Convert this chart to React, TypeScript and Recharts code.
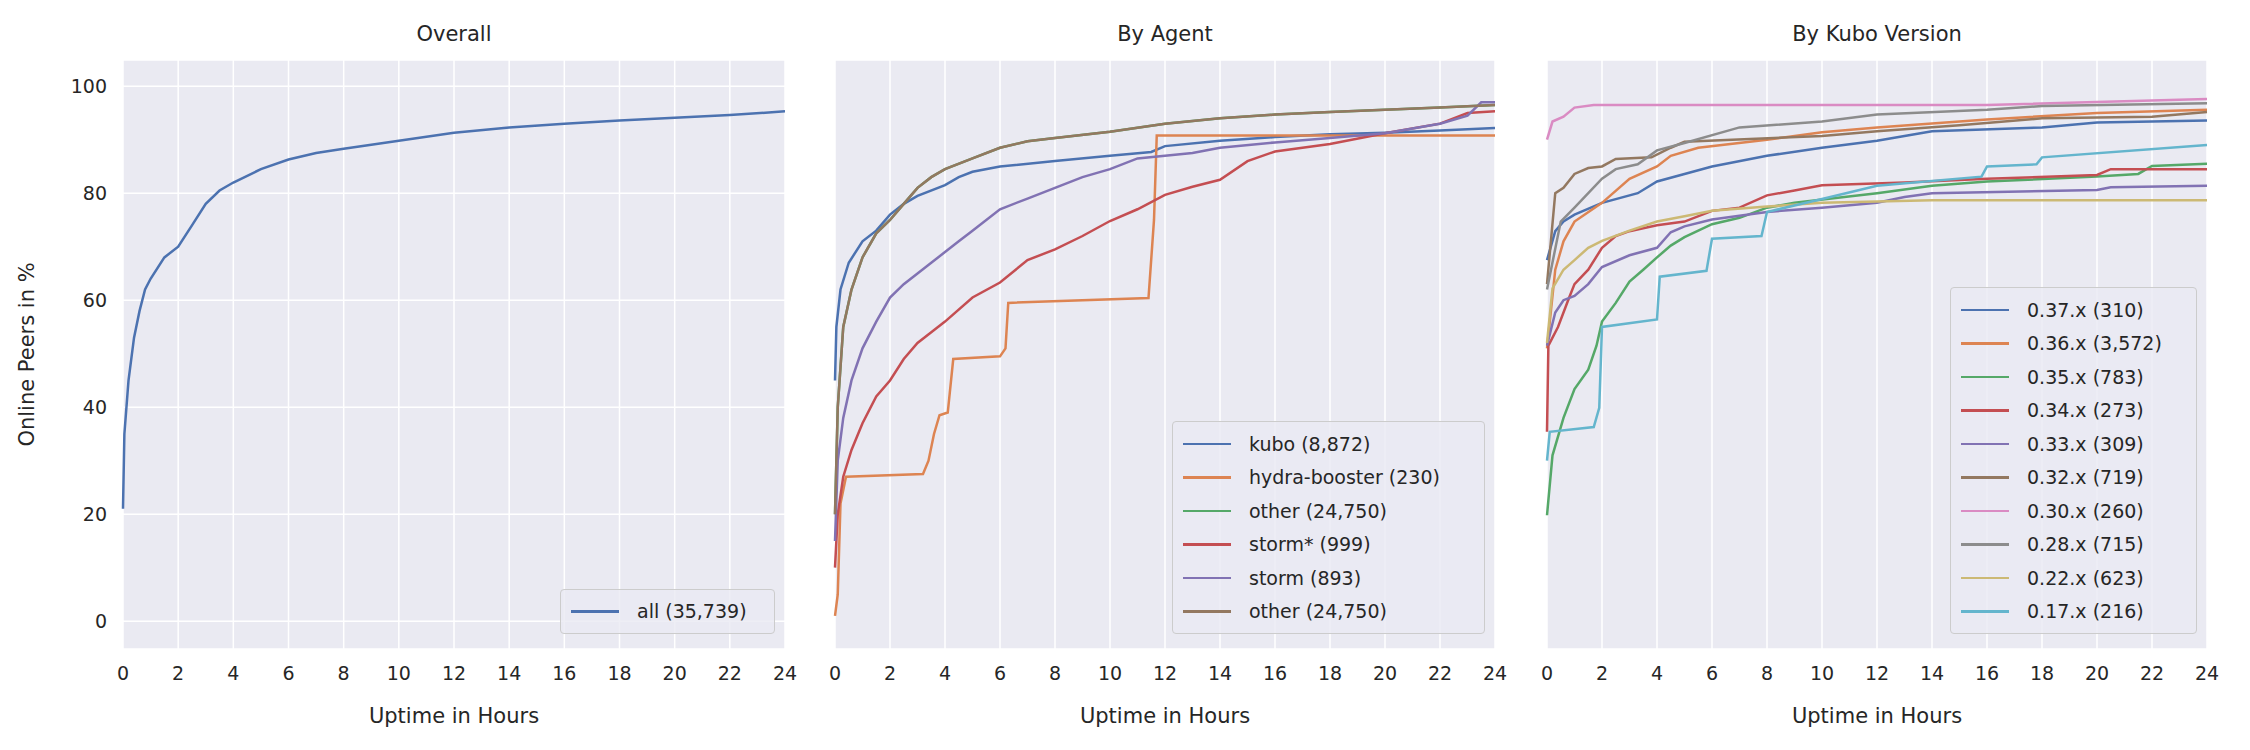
import React from 'react';
import { LineChart, Line, XAxis, YAxis, CartesianGrid } from 'recharts';

type Pt = { x: number; y: number };
const pts = (xs: number[], ys: number[]): Pt[] => xs.map((x, i) => ({ x, y: ys[i] }));

const hourTicks = [0, 2, 4, 6, 8, 10, 12, 14, 16, 18, 20, 22, 24];
const pctTicks = [0, 20, 40, 60, 80, 100];

// Overall
const allX = [0, 0.05, 0.2, 0.4, 0.6, 0.8, 1, 1.5, 2, 2.5, 3, 3.5, 4, 5, 6, 7, 8, 10, 12, 14, 16, 18, 20, 22, 24];
const allY = [21, 35, 45, 53, 58, 62, 64, 68, 70, 74, 78, 80.5, 82, 84.5, 86.3, 87.5, 88.3, 89.8, 91.3, 92.3, 93, 93.6, 94.1, 94.6, 95.3];

// By agent
const kuboX = [0, 0.05, 0.2, 0.5, 1, 1.5, 2, 2.5, 3, 4, 4.5, 5, 6, 8, 10, 11.5, 12, 14, 16, 18, 20, 22, 24];
const kuboY = [45, 55, 62, 67, 71, 73, 76, 78, 79.5, 81.5, 83, 84, 85, 86, 87, 87.7, 88.8, 89.8, 90.5, 91, 91.3, 91.7, 92.2];
const hydraX = [0, 0.1, 0.2, 0.4, 3.2, 3.4, 3.6, 3.8, 4.1, 4.3, 6, 6.2, 6.3, 11.4, 11.6, 11.7, 24];
const hydraY = [1, 5, 22, 27, 27.5, 30, 35, 38.5, 39, 49, 49.5, 51, 59.5, 60.4, 75, 90.8, 90.8];
const otherX = [0, 0.1, 0.3, 0.6, 1, 1.5, 2, 2.5, 3, 3.5, 4, 5, 6, 7, 8, 10, 12, 14, 16, 18, 20, 22, 24];
const otherY = [20, 40, 55, 62, 68, 72.5, 75, 78, 81, 83, 84.5, 86.5, 88.5, 89.7, 90.3, 91.5, 93, 94, 94.7, 95.2, 95.6, 96, 96.5];
const stormStarX = [0, 0.1, 0.3, 0.6, 1, 1.5, 2, 2.5, 3, 3.5, 4, 5, 6, 7, 8, 9, 10, 11, 12, 13, 14, 15, 16, 18, 20, 22, 23, 24];
const stormStarY = [10, 20, 27, 32, 37, 42, 45, 49, 52, 54, 56, 60.5, 63.3, 67.5, 69.5, 72, 74.8, 77, 79.7, 81.2, 82.5, 86, 87.8, 89.2, 91.2, 93, 95, 95.3];
const stormX = [0, 0.1, 0.3, 0.6, 1, 1.5, 2, 2.5, 3, 3.5, 4, 4.5, 5, 6, 7, 8, 9, 10, 11, 12, 13, 14, 16, 18, 20, 22, 23, 23.5, 24];
const stormY = [15, 30, 38, 45, 51, 56, 60.5, 63, 65, 67, 69, 71, 73, 77, 79, 81, 83, 84.5, 86.5, 87, 87.5, 88.5, 89.5, 90.3, 91.2, 93, 94.5, 97, 97];

// By kubo version
const v37X = [0, 0.3, 0.6, 1, 2, 3.3, 4, 5, 6, 8, 10, 12, 13, 14, 18, 20, 24];
const v37Y = [67.5, 72.9, 74.7, 76, 78.2, 80, 82.2, 83.6, 85, 87, 88.5, 89.8, 90.7, 91.6, 92.3, 93.2, 93.6];
const v36X = [0, 0.3, 0.6, 1, 2, 3, 4, 4.5, 5.5, 8, 10, 12, 16, 20, 24];
const v36Y = [51, 65.7, 71, 74.7, 78.2, 82.7, 85, 87, 88.5, 90, 91.4, 92.3, 93.8, 95, 95.6];
const v35X = [0, 0.2, 0.6, 1, 1.5, 1.8, 2, 2.5, 3, 3.5, 4, 4.5, 5, 6, 7, 8, 9, 12, 14, 16, 20, 21.5, 22, 24];
const v35Y = [19.8, 31, 38, 43.4, 47, 51.5, 56, 59.5, 63.5, 65.7, 68, 70.2, 71.8, 74.2, 75.4, 77.3, 78.2, 80, 81.4, 82.2, 83.1, 83.6, 85.1, 85.5];
const v34X = [0, 0.05, 0.4, 0.8, 1, 1.5, 2, 2.5, 3, 4, 5, 6, 7, 8, 9, 10, 13, 16, 20, 20.5, 24];
const v34Y = [35.4, 51.5, 55, 60.4, 63, 65.7, 69.8, 72, 72.9, 74, 74.7, 76.7, 77.3, 79.6, 80.5, 81.5, 82, 82.7, 83.4, 84.5, 84.5];
const v33X = [0, 0.3, 0.6, 1, 1.5, 2, 3, 4, 4.5, 5, 6, 8, 10, 12, 13, 14, 20, 20.5, 24];
const v33Y = [51.5, 57.7, 60, 60.8, 63, 66.2, 68.4, 69.8, 72.7, 73.8, 75.1, 76.5, 77.3, 78.2, 79.3, 80, 80.6, 81.1, 81.4];
const v32X = [0, 0.3, 0.6, 1, 1.5, 2, 2.5, 3.8, 4.5, 5, 10, 12, 15, 18, 22, 24];
const v32Y = [63, 80, 81, 83.6, 84.7, 85, 86.4, 86.7, 88.5, 89.6, 90.7, 91.6, 92.7, 94, 94.3, 95.2];
const v30X = [0, 0.2, 0.6, 1, 1.7, 16, 24];
const v30Y = [90, 93.4, 94.3, 96, 96.5, 96.5, 97.6];
const v28X = [0, 0.5, 1, 2, 2.5, 3.3, 4, 5, 7, 10, 12, 16, 18, 24];
const v28Y = [62, 74.7, 77.3, 82.7, 84.5, 85.4, 88, 89.4, 92.3, 93.4, 94.7, 95.6, 96.3, 96.8];
const v22X = [0, 0.2, 0.6, 1, 1.5, 2, 3, 4, 5, 6, 8, 10, 14, 24];
const v22Y = [52, 62.2, 65.7, 67.5, 69.8, 71.1, 73, 74.7, 75.7, 76.7, 77.5, 78.2, 78.7, 78.7];
const v17X = [0, 0.1, 1.7, 1.9, 2, 4, 4.1, 5.8, 6, 7.8, 8, 10, 12, 15.8, 16, 17.8, 18, 24];
const v17Y = [30, 35.4, 36.3, 39.9, 55, 56.4, 64.4, 65.5, 71.5, 72, 76.5, 78.9, 81.4, 83.1, 85, 85.4, 86.7, 89];

type Series = { name: string; color: string; data: Pt[] };

const overall: Series[] = [{ name: 'all (35,739)', color: '#4C72B0', data: pts(allX, allY) }];
const byAgent: Series[] = [
  { name: 'kubo (8,872)', color: '#4C72B0', data: pts(kuboX, kuboY) },
  { name: 'hydra-booster (230)', color: '#DD8452', data: pts(hydraX, hydraY) },
  { name: 'other (24,750)', color: '#55A868', data: pts(otherX, otherY) },
  { name: 'storm* (999)', color: '#C44E52', data: pts(stormStarX, stormStarY) },
  { name: 'storm (893)', color: '#8172B3', data: pts(stormX, stormY) },
  { name: 'other (24,750)', color: '#937860', data: pts(otherX, otherY) },
];
const byVersion: Series[] = [
  { name: '0.37.x (310)', color: '#4C72B0', data: pts(v37X, v37Y) },
  { name: '0.36.x (3,572)', color: '#DD8452', data: pts(v36X, v36Y) },
  { name: '0.35.x (783)', color: '#55A868', data: pts(v35X, v35Y) },
  { name: '0.34.x (273)', color: '#C44E52', data: pts(v34X, v34Y) },
  { name: '0.33.x (309)', color: '#8172B3', data: pts(v33X, v33Y) },
  { name: '0.32.x (719)', color: '#937860', data: pts(v32X, v32Y) },
  { name: '0.30.x (260)', color: '#DA8BC3', data: pts(v30X, v30Y) },
  { name: '0.28.x (715)', color: '#8C8C8C', data: pts(v28X, v28Y) },
  { name: '0.22.x (623)', color: '#CCB974', data: pts(v22X, v22Y) },
  { name: '0.17.x (216)', color: '#64B5CD', data: pts(v17X, v17Y) },
];

const FONT = '"DejaVu Sans", sans-serif';
const TXT = '#262626';
const PLOT_TOP = 60;
const PLOT_H = 589;

const LegendBox = ({ items, width }: { items: Series[]; width: number }) => (
  <div
    style={{
      width,
      background: 'rgba(234,234,242,0.8)',
      border: '1.5px solid #cccccc',
      borderRadius: 4,
      padding: '5px 10px',
      boxSizing: 'border-box',
      fontFamily: FONT,
      fontSize: 19,
      color: TXT,
    }}
  >
    {items.map((s, i) => (
      <div key={i} style={{ display: 'flex', alignItems: 'center', height: 33.5 }}>
        <div style={{ width: 48, height: 2.5, background: s.color, marginRight: 18 }} />
        <span>{s.name}</span>
      </div>
    ))}
  </div>
);

type PanelProps = {
  title: string;
  series: Series[];
  plotLeft: number;
  plotW: number;
  showY: boolean;
  legendW: number;
};

const Panel = ({ title, series, plotLeft, plotW, showY, legendW }: PanelProps) => {
  const yW = showY ? 60 : 1;
  const mLeft = showY ? 63 : 10;
  const chartLeft = plotLeft - yW - mLeft;
  const width = plotW + yW + mLeft + 14;
  return (
    <div style={{ position: 'absolute', left: chartLeft, top: 0, width, height: 750 }}>
      <div
        style={{
          position: 'absolute',
          left: yW + mLeft,
          width: plotW,
          top: 22,
          textAlign: 'center',
          fontFamily: FONT,
          fontSize: 21,
          color: TXT,
        }}
      >
        {title}
      </div>
      <LineChart
        width={width}
        height={750}
        margin={{ top: PLOT_TOP, right: 14, left: mLeft, bottom: 750 - PLOT_TOP - PLOT_H - 74 }}
        style={{ fontFamily: FONT }}
      >
        <CartesianGrid stroke="#ffffff" strokeWidth={1.5} fill="#EAEAF2" />
        <XAxis
          type="number"
          dataKey="x"
          domain={[0, 24]}
          ticks={hourTicks}
          interval={0}
          allowDuplicatedCategory={false}
          axisLine={false}
          tickLine={false}
          tickMargin={12}
          height={74}
          tick={{ fill: TXT, fontSize: 19 }}
          label={{ value: 'Uptime in Hours', position: 'insideBottom', offset: 0, fill: TXT, fontSize: 21 }}
        />
        <YAxis
          type="number"
          domain={[-5.2, 104.9]}
          ticks={pctTicks}
          interval={0}
          width={yW}
          axisLine={false}
          tickLine={false}
          tickMargin={10}
          tick={showY ? { fill: TXT, fontSize: 19 } : false}
          label={
            showY
              ? { value: 'Online Peers in %', angle: -90, position: 'insideLeft', offset: -36, fill: TXT, fontSize: 21, style: { textAnchor: 'middle' } }
              : undefined
          }
        />
        {series.map((s, i) => (
          <Line
            key={i}
            data={s.data}
            dataKey="y"
            name={s.name}
            type="linear"
            stroke={s.color}
            strokeWidth={2.5}
            dot={false}
            isAnimationActive={false}
          />
        ))}
      </LineChart>
      <div style={{ position: 'absolute', left: yW + mLeft + plotW - 10 - legendW, bottom: 750 - PLOT_TOP - PLOT_H + 15 }}>
        <LegendBox items={series} width={legendW} />
      </div>
    </div>
  );
};

export default function App() {
  return (
    <div style={{ position: 'relative', width: 2250, height: 750, background: '#ffffff' }}>
      <style>{'body{margin:0}'}</style>
      <Panel title="Overall" series={overall} plotLeft={123} plotW={662} showY legendW={215} />
      <Panel title="By Agent" series={byAgent} plotLeft={835} plotW={660} showY={false} legendW={313} />
      <Panel title="By Kubo Version" series={byVersion} plotLeft={1547} plotW={660} showY={false} legendW={247} />
    </div>
  );
}
